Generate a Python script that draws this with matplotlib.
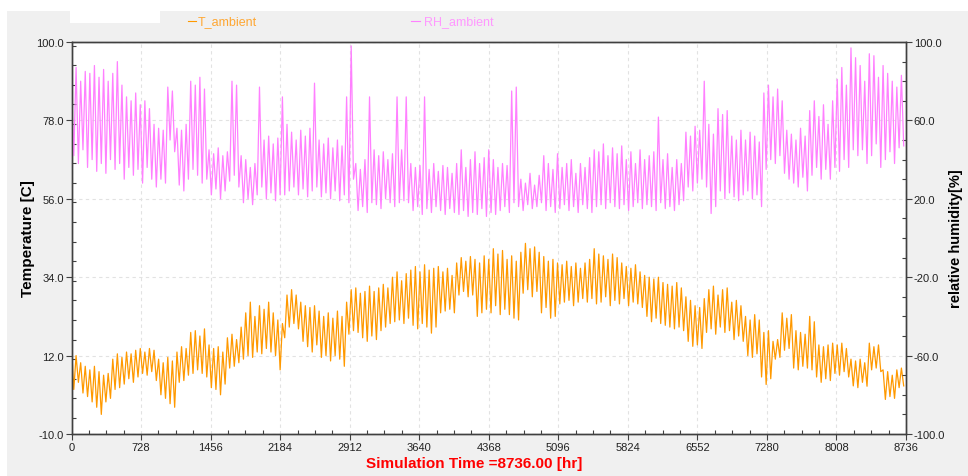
import matplotlib
matplotlib.use("Agg")
import matplotlib.pyplot as plt
from matplotlib.patches import Rectangle
from matplotlib.lines import Line2D
from matplotlib.ticker import MultipleLocator, FormatStrFormatter

plt.rcParams['font.family'] = ['Liberation Sans', 'DejaVu Sans']

# one value per day (alternating daytime high / night low)
t_ambient = [
    14.5, 2.5, 12.0, 4.5, 10.0, 1.5, 9.0,
    0.5, 8.0, -1.0, 9.0, -2.5, 7.5, -4.5,
    6.5, -1.0, 7.0, 0.0, 11.0, 2.5, 12.5,
    3.0, 11.5, 4.0, 13.0, 5.5, 12.5, 4.5,
    13.5, 6.0, 14.0, 7.0, 13.0, 6.5, 14.0,
    7.5, 13.5, 5.0, 11.0, 1.0, 10.0, 0.0,
    11.5, -1.5, 10.5, -2.5, 13.0, 4.5, 14.5,
    5.0, 14.0, 6.5, 18.5, 7.0, 19.0, 8.0,
    17.5, 7.0, 19.5, 6.0, 15.0, 3.0, 14.0,
    2.5, 14.5, 1.0, 13.0, 4.0, 17.0, 8.5,
    18.0, 9.0, 16.5, 10.0, 20.0, 11.0, 24.0,
    12.0, 27.0, 11.5, 23.0, 13.0, 26.0, 12.5,
    25.0, 14.0, 27.0, 13.0, 24.0, 12.0, 22.0,
    8.0, 21.0, 17.0, 29.0, 20.0, 30.5, 21.0,
    29.0, 19.5, 27.0, 16.0, 26.0, 14.5, 25.5,
    13.0, 26.0, 15.0, 24.5, 11.5, 23.0, 12.0,
    24.0, 10.5, 22.5, 12.0, 24.5, 11.0, 23.0,
    9.0, 27.0, 18.0, 30.5, 19.0, 31.0, 18.5,
    29.5, 17.0, 30.0, 16.0, 31.5, 17.5, 30.0,
    16.5, 31.0, 19.0, 32.0, 20.0, 31.0, 21.0,
    34.0, 21.5, 35.5, 22.0, 33.0, 21.0, 35.0,
    22.5, 36.0, 20.5, 37.0, 19.5, 35.5, 21.0,
    37.5, 20.0, 36.0, 18.3, 36.5, 20.0, 37.0,
    24.0, 35.5, 24.5, 36.5, 25.0, 34.5, 24.0,
    38.0, 29.0, 39.5, 30.0, 38.5, 28.5, 39.8,
    29.0, 39.0, 23.0, 38.0, 24.0, 40.0, 25.0,
    39.0, 24.0, 42.0, 26.0, 40.5, 23.5, 41.5,
    25.0, 39.0, 23.5, 40.0, 22.5, 38.5, 22.0,
    41.0, 29.5, 43.5, 30.5, 42.0, 28.5, 42.5,
    30.0, 41.0, 24.0, 39.8, 25.5, 38.5, 22.5,
    39.0, 23.0, 38.0, 26.5, 37.5, 27.0, 38.5,
    27.5, 37.0, 26.0, 38.0, 27.0, 36.5, 28.0,
    38.0, 27.0, 39.0, 28.0, 42.0, 26.5, 40.5,
    27.0, 40.0, 28.5, 39.0, 26.0, 40.5, 27.5,
    39.5, 26.5, 38.0, 28.0, 37.0, 26.0, 36.5,
    27.0, 37.5, 26.5, 35.5, 25.5, 34.5, 23.0,
    34.0, 21.5, 33.5, 22.5, 34.0, 21.0, 32.5,
    20.5, 32.0, 20.0, 31.5, 19.5, 32.5, 20.0,
    31.0, 19.0, 28.5, 16.0, 27.5, 14.6, 26.0,
    15.0, 25.5, 14.0, 28.0, 18.5, 30.5, 19.5,
    31.5, 18.0, 29.0, 20.0, 30.5, 18.5, 31.0,
    19.0, 27.0, 16.5, 27.5, 17.5, 26.0, 16.0,
    23.0, 12.0, 22.0, 11.5, 23.5, 12.5, 22.0,
    6.0, 18.5, 3.9, 19.0, 5.5, 16.0, 11.0,
    16.5, 11.5, 24.0, 13.5, 22.5, 14.0, 23.5,
    8.5, 19.0, 8.0, 18.5, 9.0, 18.0, 8.5,
    23.0, 8.0, 21.5, 6.0, 15.0, 4.5, 14.5,
    5.5, 15.0, 5.0, 15.5, 7.0, 15.0, 6.5,
    15.5, 7.5, 14.0, 6.0, 11.0, 3.5, 10.5,
    3.0, 11.0, 4.5, 10.0, 3.4, 15.5, 8.0,
    14.5, 8.5, 15.0, 7.5, 8.0, -0.3, 7.5,
    0.5, 6.5, 0.0, 8.0, 3.0, 8.5, 3.5,
]

rh_ambient = [
    76, 42, 87, 38, 80, 45, 85,
    36, 84, 40, 88, 34, 82, 38,
    86, 33, 80, 40, 84, 35, 90,
    38, 78, 30, 72, 36, 70, 32,
    74, 35, 68, 28, 70, 36, 66,
    30, 58, 26, 56, 30, 55, 28,
    77, 50, 75, 44, 56, 27, 55,
    24, 58, 30, 80, 35, 78, 32,
    82, 28, 76, 30, 45, 22, 43,
    25, 46, 20, 42, 24, 44, 29,
    80, 32, 78, 26, 42, 18, 40,
    20, 36, 17, 38, 22, 77, 26,
    50, 20, 52, 23, 48, 19, 51,
    22, 72, 22, 58, 24, 54, 26,
    50, 22, 55, 25, 52, 21, 56,
    24, 79, 26, 50, 21, 48, 23,
    51, 20, 46, 24, 50, 19, 47,
    22, 72, 18, 98, 30, 38, 14,
    35, 16, 40, 13, 72, 18, 45,
    17, 42, 15, 44, 20, 40, 18,
    43, 16, 72, 18, 45, 19, 72,
    18, 38, 14, 36, 16, 37, 12,
    72, 15, 35, 13, 38, 16, 34,
    14, 37, 12, 36, 15, 33, 13,
    38, 12, 45, 14, 36, 11, 40,
    13, 44, 12, 38, 15, 41, 11,
    45, 13, 40, 12, 36, 14, 38,
    16, 37, 13, 75, 18, 77, 16,
    30, 14, 28, 17, 33, 15, 27,
    16, 32, 18, 42, 14, 38, 16,
    35, 13, 43, 15, 36, 17, 38,
    14, 40, 16, 33, 13, 38, 17,
    36, 15, 41, 13, 45, 16, 44,
    17, 48, 15, 42, 18, 46, 16,
    43, 15, 47, 17, 40, 14, 44,
    16, 38, 18, 45, 15, 40, 17,
    42, 16, 44, 14, 61.7, 18, 40,
    15, 43, 16, 36, 14, 40, 17,
    38, 19, 54, 26, 52, 24, 57,
    28, 55, 30, 80, 26, 58, 12.5,
    53, 16, 66, 24, 63, 20, 65,
    23, 52, 21, 50, 19, 55, 22,
    50, 24, 54, 20, 52, 22, 49,
    16, 74, 35, 78, 40, 72, 38,
    76, 42, 70, 33, 55, 30, 53,
    28, 50, 26, 56, 31, 52, 24,
    65, 32, 70, 36, 62, 30, 68,
    35, 58, 30, 70, 36, 81, 34,
    87, 40, 78, 36, 97, 45, 92,
    42, 88, 45, 80, 38, 94, 42,
    93, 48, 82, 36, 88, 40, 84,
    44, 80, 38, 77, 46, 83, 47,
]

hours = [24 * d for d in range(len(t_ambient))]

x_ticks = list(range(0, 8737, 728))
t_ticks = [-10, 12, 34, 56, 78, 100]
rh_ticks = [-100, -60, -20, 20, 60, 100]

T_COLOR = '#ff9900'
RH_COLOR = '#ff80ff'

W, H = 968, 477
fig = plt.figure(figsize=(W / 100, H / 100), dpi=100, facecolor='white')
fig.patches.append(Rectangle((7 / W, 0), 1, (H - 12) / H, transform=fig.transFigure,
                             facecolor='#f0f0f0', edgecolor='none', zorder=-10))
fig.patches.append(Rectangle((70 / W, (H - 24) / H), 90 / W, 12 / H, transform=fig.transFigure,
                             facecolor='white', edgecolor='none', zorder=-9))

ax = fig.add_axes([71.5 / W, (H - 435) / H, (906 - 71.5) / W, (435 - 43) / H])
ax.set_facecolor('white')
ax.plot(hours, t_ambient, color=T_COLOR, lw=0.9)
ax.set_xlim(0, 8736)
ax.set_ylim(-10, 100)
ax.set_xticks(x_ticks)
ax.set_yticks(t_ticks)
ax.xaxis.set_minor_locator(MultipleLocator(182))
ax.yaxis.set_minor_locator(MultipleLocator(5.5))
ax.yaxis.set_major_formatter(FormatStrFormatter('%.1f'))
ax.grid(True, which='major', linestyle=(0, (3, 3)), color='#e2e2e2', lw=0.8)

ax2 = ax.twinx()
ax2.plot(hours, rh_ambient, color=RH_COLOR, lw=0.9)
ax2.set_ylim(-100, 100)
ax2.set_yticks(rh_ticks)
ax2.yaxis.set_minor_locator(MultipleLocator(10))
ax2.yaxis.set_major_formatter(FormatStrFormatter('%.1f'))

for a in (ax, ax2):
    for s in a.spines.values():
        s.set_color('#404040')
        s.set_linewidth(1.0)
    a.tick_params(which='major', direction='out', length=4, width=0.8, color='#404040',
                  labelsize=8, labelcolor='#222222', pad=1.5)
    a.tick_params(which='minor', direction='in', length=3, width=0.8, color='#404040')

ax.set_ylabel('Temperature [C]', fontsize=11, fontweight='bold', labelpad=1)
ax2.set_ylabel('relative humidity[%]', fontsize=10.5, fontweight='bold', labelpad=3)
ax.set_xlabel('Simulation Time =8736.00 [hr]', fontsize=11, fontweight='bold', color='#ff0000')
ax.xaxis.set_label_coords((474 - 71.5) / (906 - 71.5), -0.057)

# legend along the top
fig.lines.append(Line2D([188 / W, 196 / W], [(H - 22) / H] * 2, transform=fig.transFigure, color=T_COLOR, lw=0.8))
fig.text(198 / W, (H - 22) / H, 'T_ambient', color='#ffa733', fontsize=9, va='center')
fig.lines.append(Line2D([411 / W, 420 / W], [(H - 22) / H] * 2, transform=fig.transFigure, color=RH_COLOR, lw=0.8))
fig.text(424 / W, (H - 22) / H, 'RH_ambient', color='#ff99ff', fontsize=9, va='center')

fig.savefig('out.png', dpi=100, facecolor=fig.get_facecolor())
